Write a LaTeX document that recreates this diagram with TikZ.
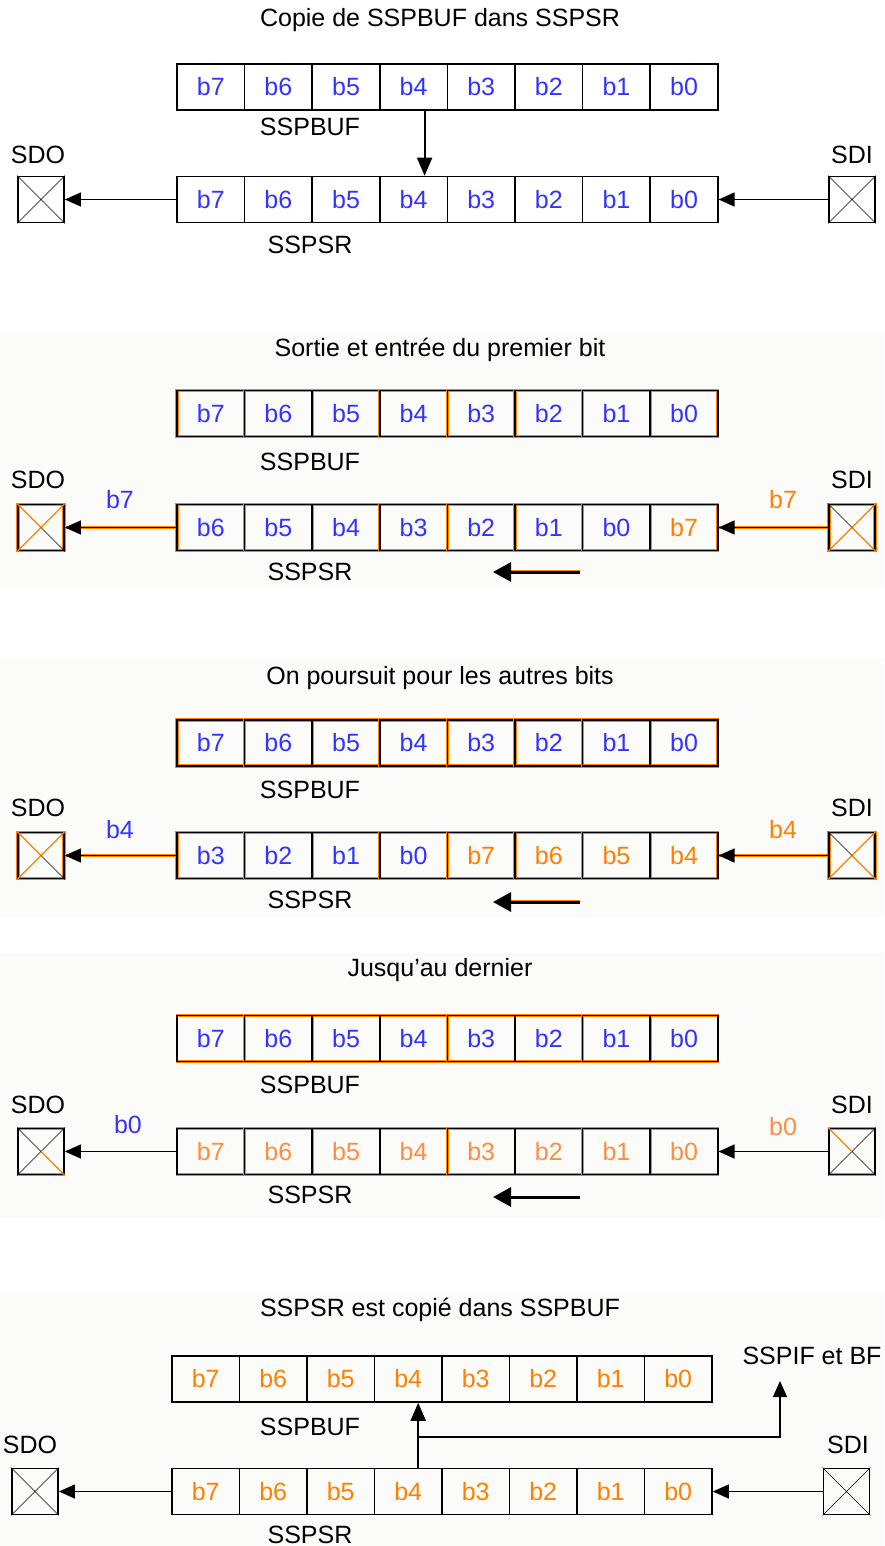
\documentclass[tikz,border=0pt]{standalone}
\usepackage{fontspec}
\setmainfont{Liberation Sans}
\usetikzlibrary{arrows.meta,positioning,calc}
\definecolor{bitblue}{RGB}{51,51,255}
\definecolor{bitorange}{RGB}{255,128,0}
\definecolor{bitpale}{RGB}{255,140,64}
\definecolor{panelbg}{RGB}{251,252,250}

\begin{document}
\begin{tikzpicture}[x=1pt,y=-1pt,
  every node/.style={font=\fontsize{25}{30}\selectfont},
  cell/.style={draw,line width=1.5pt,minimum width=67.6pt,minimum height=46pt,inner sep=0pt},
  glow/.style={preaction={draw=bitorange,line width=3.2pt}},
  portbox/.style={draw,line width=1.8pt,minimum size=46pt,inner sep=0pt},
  link/.style={line width=1.4pt,-{Triangle[length=16pt,width=14pt]}},
  orangelink/.style={link,preaction={draw=bitorange,line width=2.6pt,-}},
  copyarrow/.style={line width=1.8pt,-{Triangle[length=18pt,width=15pt]}},
  shiftarrow/.style={line width=3pt,-{Triangle[length=18pt,width=19pt]}}]
  \useasboundingbox (0,0) rectangle (884,1546);
  % panel backgrounds
  \fill[panelbg] (0,333) rectangle (884,588);
  \fill[panelbg] (0,658) rectangle (884,917);
  \fill[panelbg] (0,953) rectangle (884,1218);
  \fill[panelbg] (0,1292) rectangle (884,1546);

  % ---- panel 1: SSPBUF copied into SSPSR
  \node (title1) at (440,20) {Copie de SSPBUF dans SSPSR};
  \foreach \t [count=\k] in {b7,b6,b5,b4,b3,b2,b1,b0}
    \node[cell,text=bitblue] (buf1-\k) at (143.2+67.6*\k,87) {\t};
  \node (buf1lab) at (310,127) {SSPBUF};
  \foreach \t [count=\k] in {b7,b6,b5,b4,b3,b2,b1,b0}
    \node[cell,text=bitblue] (sr1-\k) at (143.2+67.6*\k,199.5) {\t};
  \node (sr1lab) at (310,245) {SSPSR};
  \node[portbox] (sdo1) at (41,199.5) {};
  \node[portbox] (sdi1) at (852,199.5) {};
  \draw (sdo1.north west) -- (sdo1.south east) (sdo1.north east) -- (sdo1.south west);
  \draw (sdi1.north west) -- (sdi1.south east) (sdi1.north east) -- (sdi1.south west);
  \node (sdo1lab) at (38,155) {SDO};
  \node (sdi1lab) at (852,155) {SDI};
  \draw[link] (sr1-1.west) -- (sdo1.east);
  \draw[link] (sdi1.west) -- (sr1-8.east);
  \draw[copyarrow] ([xshift=11pt]buf1-4.south) -- ([xshift=11pt]sr1-4.north);

  % ---- panel 2: first bit out and in
  \node (title2) at (440,350) {Sortie et entrée du premier bit};
  \foreach \t [count=\k] in {b7,b6,b5,b4,b3,b2,b1,b0}
    \node[cell,glow,text=bitblue] (buf2-\k) at (143.2+67.6*\k,413.5) {\t};
  \node (buf2lab) at (310,462) {SSPBUF};
  \foreach \t/\c [count=\k] in {b6/bitblue,b5/bitblue,b4/bitblue,b3/bitblue,b2/bitblue,b1/bitblue,b0/bitblue,b7/bitorange}
    \node[cell,glow,text=\c] (sr2-\k) at (143.2+67.6*\k,527.5) {\t};
  \node (sr2lab) at (310,572) {SSPSR};
  \node[portbox,glow] (sdo2) at (41,527.5) {};
  \node[portbox,glow] (sdi2) at (852,527.5) {};
  \draw[bitorange,line width=1.2pt] (sdo2.north east) -- (sdo2.south west) (sdo2.north west) -- (sdo2.center);
  \draw (sdo2.center) -- (sdo2.south east);
  \draw[bitorange,line width=1.2pt] (sdi2.north east) -- (sdi2.south west) (sdi2.center) -- (sdi2.south east);
  \draw (sdi2.north west) -- (sdi2.center);
  \node (sdo2lab) at (38,480) {SDO};
  \node (sdi2lab) at (852,480) {SDI};
  \node[text=bitblue] (out2) at (120,500) {b7};
  \node[text=bitorange] (in2) at (783,500) {b7};
  \draw[orangelink] (sr2-1.west) -- (sdo2.east);
  \draw[orangelink] (sdi2.west) -- (sr2-8.east);
  \coordinate (sh2a) at (580,572);
  \coordinate (sh2b) at (493,572);
  \draw[shiftarrow,preaction={draw=bitorange,line width=4.6pt,-,shorten >=16pt}] (sh2a) -- (sh2b);

  % ---- panel 3: the other bits follow
  \node (title3) at (440,678) {On poursuit pour les autres bits};
  \foreach \t [count=\k] in {b7,b6,b5,b4,b3,b2,b1,b0}
    \node[cell,glow,text=bitblue] (buf3-\k) at (143.2+67.6*\k,743) {\t};
  \node (buf3lab) at (310,790) {SSPBUF};
  \foreach \t/\c [count=\k] in {b3/bitblue,b2/bitblue,b1/bitblue,b0/bitblue,b7/bitorange,b6/bitorange,b5/bitorange,b4/bitorange}
    \node[cell,glow,text=\c] (sr3-\k) at (143.2+67.6*\k,855.5) {\t};
  \node (sr3lab) at (310,900) {SSPSR};
  \node[portbox,glow] (sdo3) at (41,855.5) {};
  \node[portbox,glow] (sdi3) at (852,855.5) {};
  \draw[bitorange,line width=1.2pt] (sdo3.north east) -- (sdo3.south west) (sdo3.north west) -- (sdo3.center);
  \draw (sdo3.center) -- (sdo3.south east);
  \draw[bitorange,line width=1.2pt] (sdi3.north east) -- (sdi3.south west) (sdi3.center) -- (sdi3.south east);
  \draw (sdi3.north west) -- (sdi3.center);
  \node (sdo3lab) at (38,808) {SDO};
  \node (sdi3lab) at (852,808) {SDI};
  \node[text=bitblue] (out3) at (120,830) {b4};
  \node[text=bitorange] (in3) at (783,830) {b4};
  \draw[orangelink] (sr3-1.west) -- (sdo3.east);
  \draw[orangelink] (sdi3.west) -- (sr3-8.east);
  \coordinate (sh3a) at (580,902);
  \coordinate (sh3b) at (493,902);
  \draw[shiftarrow,preaction={draw=bitorange,line width=4.6pt,-,shorten >=16pt}] (sh3a) -- (sh3b);

  % ---- panel 4: up to the last one
  \node (title4) at (440,970) {Jusqu'au dernier};
  \foreach \t [count=\k] in {b7,b6,b5,b4,b3,b2,b1,b0}
    \node[cell,preaction={draw=bitorange,line width=2.6pt},text=bitblue] (buf4-\k) at (143.2+67.6*\k,1038.5) {\t};
  \node (buf4lab) at (310,1085) {SSPBUF};
  \foreach \t [count=\k] in {b7,b6,b5,b4,b3,b2,b1,b0}
    \node[cell,preaction={draw=bitorange,line width=2.6pt},text=bitpale] (sr4-\k) at (143.2+67.6*\k,1151.5) {\t};
  \node (sr4lab) at (310,1195) {SSPSR};
  \node[portbox,preaction={draw=bitorange,line width=2.6pt}] (sdo4) at (41,1151.5) {};
  \node[portbox,preaction={draw=bitorange,line width=2.6pt}] (sdi4) at (852,1151.5) {};
  \draw (sdo4.north east) -- (sdo4.south west) (sdo4.north west) -- (sdo4.center);
  \draw[bitorange,line width=1.2pt] (sdo4.center) -- (sdo4.south east);
  \draw (sdi4.north east) -- (sdi4.south west) (sdi4.center) -- (sdi4.south east);
  \draw[bitorange,line width=1.2pt] (sdi4.north west) -- (sdi4.center);
  \node (sdo4lab) at (38,1105) {SDO};
  \node (sdi4lab) at (852,1105) {SDI};
  \node[text=bitblue] (out4) at (128,1125) {b0};
  \node[text=bitpale] (in4) at (783,1127) {b0};
  \draw[link] (sr4-1.west) -- (sdo4.east);
  \draw[link] (sdi4.west) -- (sr4-8.east);
  \coordinate (sh4a) at (580,1197);
  \coordinate (sh4b) at (493,1197);
  \draw[shiftarrow] (sh4a) -- (sh4b);

  % ---- panel 5: SSPSR copied back into SSPBUF
  \node (title5) at (440,1310) {SSPSR est copié dans SSPBUF};
  \foreach \t [count=\k] in {b7,b6,b5,b4,b3,b2,b1,b0}
    \node[cell,text=bitorange] (buf5-\k) at (138.2+67.5*\k,1379) {\t};
  \node (buf5lab) at (310,1427) {SSPBUF};
  \foreach \t [count=\k] in {b7,b6,b5,b4,b3,b2,b1,b0}
    \node[cell,text=bitorange] (sr5-\k) at (138.2+67.5*\k,1491.5) {\t};
  \node (sr5lab) at (310,1535) {SSPSR};
  \node[portbox] (sdo5) at (35,1491.5) {};
  \node[portbox] (sdi5) at (846.5,1491.5) {};
  \draw (sdo5.north west) -- (sdo5.south east) (sdo5.north east) -- (sdo5.south west);
  \draw (sdi5.north west) -- (sdi5.south east) (sdi5.north east) -- (sdi5.south west);
  \node (sdo5lab) at (30,1445) {SDO};
  \node (sdi5lab) at (848,1445) {SDI};
  \draw[link] (sr5-1.west) -- (sdo5.east);
  \draw[link] (sdi5.west) -- (sr5-8.east);
  \draw[copyarrow] ([xshift=10pt]sr5-4.north) -- ([xshift=10pt]buf5-4.south);
  \coordinate (j5) at (418,1437);
  \coordinate (flag5) at (780,1381);
  \node (flag5lab) at (812,1356) {SSPIF et BF};
  \draw[link] (j5) -| (flag5);
\end{tikzpicture}
\end{document}
